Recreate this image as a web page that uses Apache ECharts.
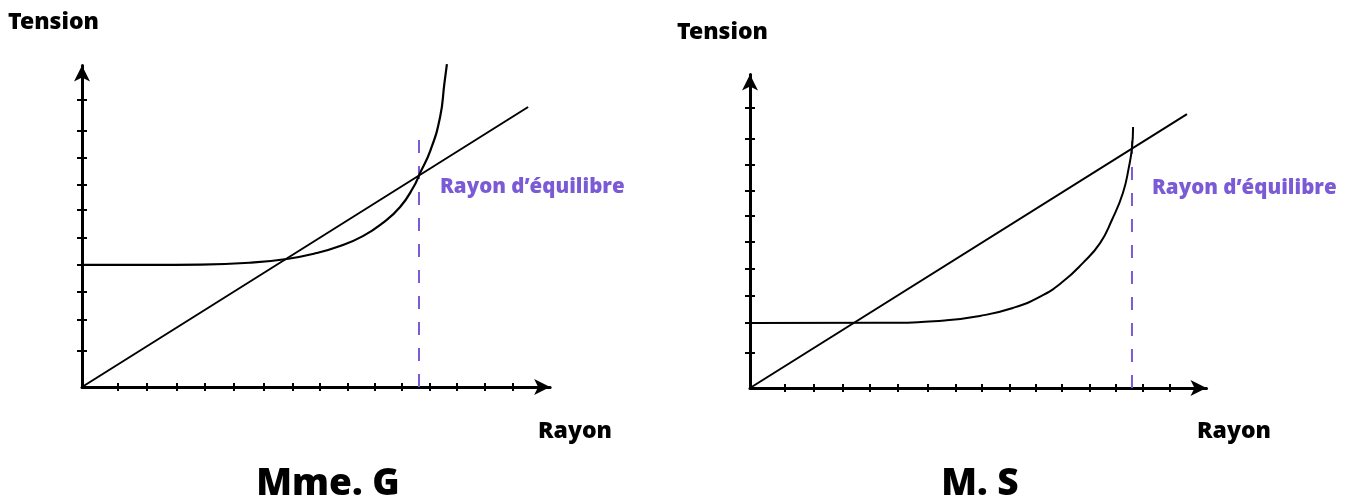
<!DOCTYPE html>
<html>
<head>
    <meta charset="utf-8">
    <title>Tension / Rayon</title>
    <script src="https://cdn.jsdelivr.net/npm/echarts@6/dist/echarts.min.js"></script>
    <style>
        html, body { margin: 0; padding: 0; background: #fff; }
    </style>
</head>
<body>
    <div id="chart" style="width: 1351px;height:502px;"></div>
    <script type="text/javascript">
        // valeurs (unité = un pas de graduation)
        var xTicks = [1.28, 2.3, 3.37, 4.36, 5.39, 6.45, 7.48, 8.44, 9.43, 10.39, 11.35, 12.34, 13.3, 14.29, 15.28];
        var yTicks = [1.28, 2.38, 3.36, 4.33, 5.31, 6.28, 7.16, 8.13, 9.08, 10.2];

        // Mme. G
        var gCurve = [[0, 4.33], [2.4, 4.33], [4.2, 4.34], [6.0, 4.41], [7.26, 4.54], [8.32, 4.75], [9.15, 5.0],
            [9.96, 5.35], [10.67, 5.82], [11.28, 6.38], [11.76, 7.1], [11.97, 7.55], [12.36, 8.4],
            [12.7, 9.58], [12.85, 10.76], [12.94, 11.45]];
        var gLine = [[0, 0], [15.82, 9.93]];
        var gEquilibre = [[11.95, 0], [11.95, 9.04]];

        // M. S
        var sCurve = [[0, 2.36], [4.73, 2.37], [7.15, 2.46], [8.36, 2.62], [9.56, 2.91], [10.55, 3.32],
            [11.38, 3.87], [12.11, 4.55], [12.73, 5.27], [13.16, 6.11], [13.56, 7.09], [13.78, 8.04],
            [13.89, 8.73], [13.93, 9.49]];
        var sLine = [[0, 0], [15.89, 9.96]];
        var sEquilibre = [[13.89, 0], [13.89, 9.38]];

        var labels = {
            tension: 'Tension',
            rayon: 'Rayon',
            equilibre: 'Rayon d’équilibre',
            g: 'Mme. G',
            s: 'M. S'
        };

        var xMax = 16.6, yMax = 11.4;
        var purple = '#7b5ad6';
        var titleFont = '"Noto Sans", sans-serif';

        var myChart = echarts.init(document.getElementById('chart'));

        function xAxisPair(grid) {
            var base = {
                type: 'value', gridIndex: grid, min: 0, max: xMax, position: 'bottom',
                axisLabel: { show: false }, splitLine: { show: false }
            };
            return [
                Object.assign({}, base, {
                    axisLine: { show: true, symbol: ['none', 'arrow'], symbolSize: [12, 16],
                        lineStyle: { color: '#000', width: 3 } },
                    axisTick: { show: true, inside: true, length: 4, customValues: xTicks,
                        lineStyle: { color: '#000', width: 2 } }
                }),
                Object.assign({}, base, {
                    axisLine: { show: false },
                    axisTick: { show: true, inside: false, length: 4, customValues: xTicks,
                        lineStyle: { color: '#000', width: 2 } }
                })
            ];
        }
        function yAxisPair(grid) {
            var base = {
                type: 'value', gridIndex: grid, min: 0, max: yMax, position: 'left',
                axisLabel: { show: false }, splitLine: { show: false }
            };
            return [
                Object.assign({}, base, {
                    axisLine: { show: true, symbol: ['none', 'arrow'], symbolSize: [12, 16],
                        lineStyle: { color: '#000', width: 3 } },
                    axisTick: { show: true, inside: true, length: 5, customValues: yTicks,
                        lineStyle: { color: '#000', width: 2 } }
                }),
                Object.assign({}, base, {
                    axisLine: { show: false },
                    axisTick: { show: true, inside: false, length: 5, customValues: yTicks,
                        lineStyle: { color: '#000', width: 2 } }
                })
            ];
        }

        function curve(data, axis, w) {
            return {
                type: 'line', data: data, xAxisIndex: axis, yAxisIndex: axis,
                smooth: 0.5, showSymbol: false, clip: false, silent: true,
                lineStyle: { color: '#000', width: w }
            };
        }
        function dashed(data, axis) {
            return {
                type: 'line', data: data, xAxisIndex: axis, yAxisIndex: axis,
                showSymbol: false, clip: false, silent: true,
                lineStyle: { color: purple, width: 2, type: [13, 13] }
            };
        }

        function text(str, x, y, size, color, family, align) {
            return {
                type: 'text', x: x, y: y,
                style: { text: str, fill: color, fontSize: size, fontWeight: 900,
                    fontFamily: family, align: align || 'left', verticalAlign: 'middle' }
            };
        }

        var option = {
            animation: false,
            grid: [
                { left: 82, top: 387 - yMax * 28.2, width: xMax * 28.2, height: yMax * 28.2 },
                { left: 750, top: 388 - yMax * 27.5, width: xMax * 27.5, height: yMax * 27.5 }
            ],
            xAxis: xAxisPair(0).concat(xAxisPair(1)),
            yAxis: yAxisPair(0).concat(yAxisPair(1)),
            series: [
                dashed(gEquilibre, 0),
                curve(gCurve, 0, 2.2),
                curve(gLine, 0, 2),
                dashed(sEquilibre, 2),
                curve(sCurve, 2, 2),
                curve(sLine, 2, 2)
            ],
            graphic: [
                text(labels.tension, 8, 22, 23, '#000', titleFont),
                text(labels.tension, 677, 32, 23, '#000', titleFont),
                text(labels.rayon, 538, 431, 23, '#000', titleFont),
                text(labels.rayon, 1197, 431, 23, '#000', titleFont),
                text(labels.equilibre, 440, 187, 20.5, purple, '"Open Sans", sans-serif'),
                text(labels.equilibre, 1152, 188, 20.5, purple, '"Open Sans", sans-serif'),
                text(labels.g, 328, 484, 37, '#000', titleFont, 'center'),
                text(labels.s, 980, 484, 37, '#000', titleFont, 'center')
            ]
        };

        myChart.setOption(option);
    </script>
</body>
</html>
